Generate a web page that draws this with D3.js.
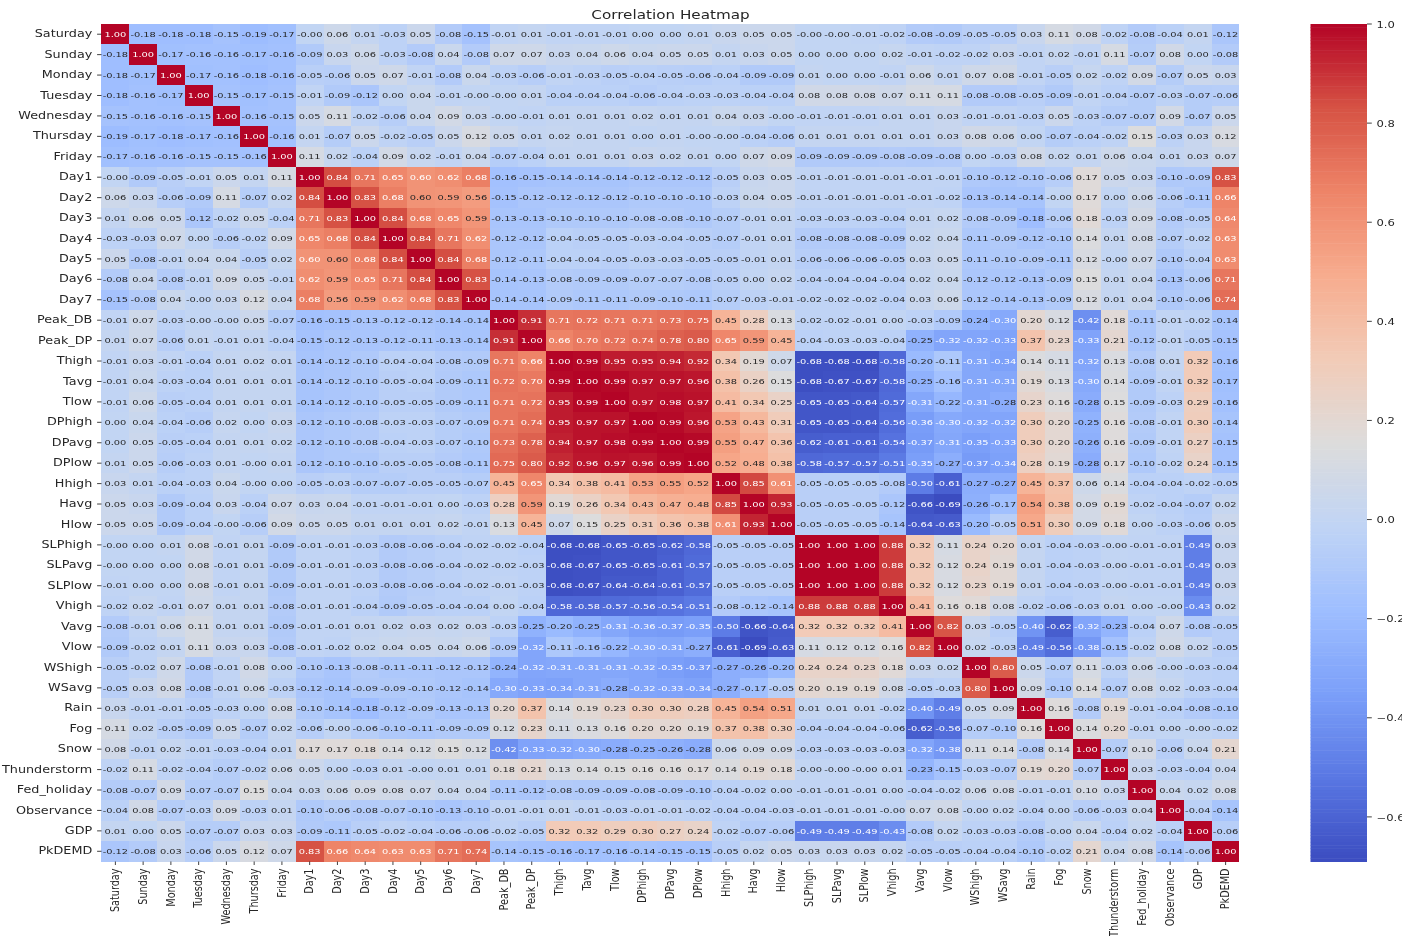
<!DOCTYPE html>
<html>
<head>
<meta charset="utf-8">
<script src="https://cdn.jsdelivr.net/npm/d3@7/dist/d3.min.js"></script>
<style>
html,body{margin:0;padding:0;background:#fff;overflow:hidden;}
svg{display:block;filter:blur(0.55px);}
text{font-family:"DejaVu Sans",sans-serif;}
</style>
</head>
<body>
<svg id="chart" width="1402" height="936"></svg>
<script>
const categories = ["Saturday","Sunday","Monday","Tuesday","Wednesday","Thursday","Friday","Day1","Day2","Day3","Day4","Day5","Day6","Day7","Peak_DB","Peak_DP","Thigh","Tavg","Tlow","DPhigh","DPavg","DPlow","Hhigh","Havg","Hlow","SLPhigh","SLPavg","SLPlow","Vhigh","Vavg","Vlow","WShigh","WSavg","Rain","Fog","Snow","Thunderstorm","Fed_holiday","Observance","GDP","PkDEMD"];

const rowSaturday = [1.00,-0.18,-0.18,-0.18,-0.15,-0.19,-0.17,-0.00,0.06,0.01,-0.03,0.05,-0.08,-0.15,-0.01,0.01,-0.01,-0.01,-0.01,0.00,0.00,0.01,0.03,0.05,0.05,-0.00,-0.00,-0.01,-0.02,-0.08,-0.09,-0.05,-0.05,0.03,0.11,0.08,-0.02,-0.08,-0.04,0.01,-0.12];
const rowSunday = [-0.18,1.00,-0.17,-0.16,-0.16,-0.17,-0.16,-0.09,0.03,0.06,-0.03,-0.08,0.04,-0.08,0.07,0.07,0.03,0.04,0.06,0.04,0.05,0.05,0.01,0.03,0.05,0.00,0.00,0.00,0.02,-0.01,-0.02,-0.02,0.03,-0.01,0.02,-0.01,0.11,-0.07,0.08,0.00,-0.08];
const rowMonday = [-0.18,-0.17,1.00,-0.17,-0.16,-0.18,-0.16,-0.05,-0.06,0.05,0.07,-0.01,-0.08,0.04,-0.03,-0.06,-0.01,-0.03,-0.05,-0.04,-0.05,-0.06,-0.04,-0.09,-0.09,0.01,0.00,0.00,-0.01,0.06,0.01,0.07,0.08,-0.01,-0.05,0.02,-0.02,0.09,-0.07,0.05,0.03];
const rowTuesday = [-0.18,-0.16,-0.17,1.00,-0.15,-0.17,-0.15,-0.01,-0.09,-0.12,0.00,0.04,-0.01,-0.00,-0.00,0.01,-0.04,-0.04,-0.04,-0.06,-0.04,-0.03,-0.03,-0.04,-0.04,0.08,0.08,0.08,0.07,0.11,0.11,-0.08,-0.08,-0.05,-0.09,-0.01,-0.04,-0.07,-0.03,-0.07,-0.06];
const rowWednesday = [-0.15,-0.16,-0.16,-0.15,1.00,-0.16,-0.15,0.05,0.11,-0.02,-0.06,0.04,0.09,0.03,-0.00,-0.01,0.01,0.01,0.01,0.02,0.01,0.01,0.04,0.03,-0.00,-0.01,-0.01,-0.01,0.01,0.01,0.03,-0.01,-0.01,-0.03,0.05,-0.03,-0.07,-0.07,0.09,-0.07,0.05];
const rowThursday = [-0.19,-0.17,-0.18,-0.17,-0.16,1.00,-0.16,0.01,-0.07,0.05,-0.02,-0.05,0.05,0.12,0.05,0.01,0.02,0.01,0.01,0.00,0.01,-0.00,-0.00,-0.04,-0.06,0.01,0.01,0.01,0.01,0.01,0.03,0.08,0.06,0.00,-0.07,-0.04,-0.02,0.15,-0.03,0.03,0.12];
const rowFriday = [-0.17,-0.16,-0.16,-0.15,-0.15,-0.16,1.00,0.11,0.02,-0.04,0.09,0.02,-0.01,0.04,-0.07,-0.04,0.01,0.01,0.01,0.03,0.02,0.01,0.00,0.07,0.09,-0.09,-0.09,-0.09,-0.08,-0.09,-0.08,0.00,-0.03,0.08,0.02,0.01,0.06,0.04,0.01,0.03,0.07];
const rowDay1 = [-0.00,-0.09,-0.05,-0.01,0.05,0.01,0.11,1.00,0.84,0.71,0.65,0.60,0.62,0.68,-0.16,-0.15,-0.14,-0.14,-0.14,-0.12,-0.12,-0.12,-0.05,0.03,0.05,-0.01,-0.01,-0.01,-0.01,-0.01,-0.01,-0.10,-0.12,-0.10,-0.06,0.17,0.05,0.03,-0.10,-0.09,0.83];
const rowDay2 = [0.06,0.03,-0.06,-0.09,0.11,-0.07,0.02,0.84,1.00,0.83,0.68,0.598,0.59,0.56,-0.15,-0.12,-0.12,-0.12,-0.12,-0.10,-0.10,-0.10,-0.03,0.04,0.05,-0.01,-0.01,-0.01,-0.01,-0.01,-0.02,-0.13,-0.14,-0.14,-0.00,0.17,0.00,0.06,-0.06,-0.11,0.66];
const rowDay3 = [0.01,0.06,0.05,-0.12,-0.02,0.05,-0.04,0.71,0.83,1.00,0.84,0.68,0.65,0.59,-0.13,-0.13,-0.10,-0.10,-0.10,-0.08,-0.08,-0.10,-0.07,-0.01,0.01,-0.03,-0.03,-0.03,-0.04,0.01,0.02,-0.08,-0.09,-0.18,-0.06,0.18,-0.03,0.09,-0.08,-0.05,0.64];
const rowDay4 = [-0.03,-0.03,0.07,0.00,-0.06,-0.02,0.09,0.65,0.68,0.84,1.00,0.84,0.71,0.62,-0.12,-0.12,-0.04,-0.05,-0.05,-0.03,-0.04,-0.05,-0.07,-0.01,0.01,-0.08,-0.08,-0.08,-0.09,0.02,0.04,-0.11,-0.09,-0.12,-0.10,0.14,0.01,0.08,-0.07,-0.02,0.63];
const rowDay5 = [0.05,-0.08,-0.01,0.04,0.04,-0.05,0.02,0.60,0.598,0.68,0.84,1.00,0.84,0.68,-0.12,-0.11,-0.04,-0.04,-0.05,-0.03,-0.03,-0.05,-0.05,-0.01,0.01,-0.06,-0.06,-0.06,-0.05,0.03,0.05,-0.11,-0.10,-0.09,-0.11,0.12,-0.00,0.07,-0.10,-0.04,0.63];
const rowDay6 = [-0.08,0.04,-0.08,-0.01,0.09,0.05,-0.01,0.62,0.59,0.65,0.71,0.84,1.00,0.83,-0.14,-0.13,-0.08,-0.09,-0.09,-0.07,-0.07,-0.08,-0.05,0.00,0.02,-0.04,-0.04,-0.04,-0.04,0.02,0.04,-0.12,-0.12,-0.13,-0.09,0.15,0.01,0.04,-0.13,-0.06,0.71];
const rowDay7 = [-0.15,-0.08,0.04,-0.00,0.03,0.12,0.04,0.68,0.56,0.59,0.62,0.68,0.83,1.00,-0.14,-0.14,-0.09,-0.11,-0.11,-0.09,-0.10,-0.11,-0.07,-0.03,-0.01,-0.02,-0.02,-0.02,-0.04,0.03,0.06,-0.12,-0.14,-0.13,-0.09,0.12,0.01,0.04,-0.10,-0.06,0.74];
const rowPeakDB = [-0.01,0.07,-0.03,-0.00,-0.00,0.05,-0.07,-0.16,-0.15,-0.13,-0.12,-0.12,-0.14,-0.14,1.00,0.91,0.71,0.72,0.71,0.71,0.73,0.75,0.45,0.28,0.13,-0.02,-0.02,-0.01,0.00,-0.03,-0.09,-0.24,-0.30,0.20,0.12,-0.42,0.18,-0.11,-0.01,-0.02,-0.14];
const rowPeakDP = [0.01,0.07,-0.06,0.01,-0.01,0.01,-0.04,-0.15,-0.12,-0.13,-0.12,-0.11,-0.13,-0.14,0.91,1.00,0.66,0.70,0.72,0.74,0.78,0.80,0.65,0.59,0.45,-0.04,-0.03,-0.03,-0.04,-0.25,-0.32,-0.32,-0.33,0.37,0.23,-0.33,0.21,-0.12,-0.01,-0.05,-0.15];
const rowThigh = [-0.01,0.03,-0.01,-0.04,0.01,0.02,0.01,-0.14,-0.12,-0.10,-0.04,-0.04,-0.08,-0.09,0.71,0.66,1.00,0.99,0.95,0.95,0.94,0.92,0.34,0.19,0.07,-0.68,-0.68,-0.68,-0.58,-0.20,-0.11,-0.31,-0.34,0.14,0.11,-0.32,0.13,-0.08,0.01,0.32,-0.16];
const rowTavg = [-0.01,0.04,-0.03,-0.04,0.01,0.01,0.01,-0.14,-0.12,-0.10,-0.05,-0.04,-0.09,-0.11,0.72,0.70,0.99,1.00,0.99,0.97,0.97,0.96,0.38,0.26,0.15,-0.68,-0.67,-0.67,-0.58,-0.25,-0.16,-0.31,-0.31,0.19,0.13,-0.30,0.14,-0.09,-0.01,0.32,-0.17];
const rowTlow = [-0.01,0.06,-0.05,-0.04,0.01,0.01,0.01,-0.14,-0.12,-0.10,-0.05,-0.05,-0.09,-0.11,0.71,0.72,0.95,0.99,1.00,0.97,0.98,0.97,0.41,0.34,0.25,-0.65,-0.65,-0.64,-0.57,-0.31,-0.22,-0.31,-0.28,0.23,0.16,-0.28,0.15,-0.09,-0.03,0.29,-0.16];
const rowDPhigh = [0.00,0.04,-0.04,-0.06,0.02,0.00,0.03,-0.12,-0.10,-0.08,-0.03,-0.03,-0.07,-0.09,0.71,0.74,0.95,0.97,0.97,1.00,0.99,0.96,0.53,0.43,0.31,-0.65,-0.65,-0.64,-0.56,-0.36,-0.30,-0.32,-0.32,0.30,0.20,-0.25,0.16,-0.08,-0.01,0.30,-0.14];
const rowDPavg = [0.00,0.05,-0.05,-0.04,0.01,0.01,0.02,-0.12,-0.10,-0.08,-0.04,-0.03,-0.07,-0.10,0.73,0.78,0.94,0.97,0.98,0.99,1.00,0.99,0.55,0.47,0.36,-0.62,-0.61,-0.61,-0.54,-0.37,-0.31,-0.35,-0.33,0.30,0.20,-0.26,0.16,-0.09,-0.01,0.27,-0.15];
const rowDPlow = [0.01,0.05,-0.06,-0.03,0.01,-0.00,0.01,-0.12,-0.10,-0.10,-0.05,-0.05,-0.08,-0.11,0.75,0.80,0.92,0.96,0.97,0.96,0.99,1.00,0.52,0.48,0.38,-0.58,-0.57,-0.57,-0.51,-0.35,-0.27,-0.37,-0.34,0.28,0.19,-0.28,0.17,-0.10,-0.02,0.24,-0.15];
const rowHhigh = [0.03,0.01,-0.04,-0.03,0.04,-0.00,0.00,-0.05,-0.03,-0.07,-0.07,-0.05,-0.05,-0.07,0.45,0.65,0.34,0.38,0.41,0.53,0.55,0.52,1.00,0.85,0.61,-0.05,-0.05,-0.05,-0.08,-0.50,-0.61,-0.27,-0.27,0.45,0.37,0.06,0.14,-0.04,-0.04,-0.02,-0.05];
const rowHavg = [0.05,0.03,-0.09,-0.04,0.03,-0.04,0.07,0.03,0.04,-0.01,-0.01,-0.01,0.00,-0.03,0.28,0.59,0.19,0.26,0.34,0.43,0.47,0.48,0.85,1.00,0.93,-0.05,-0.05,-0.05,-0.12,-0.66,-0.69,-0.26,-0.17,0.54,0.38,0.09,0.19,-0.02,-0.04,-0.07,0.02];
const rowHlow = [0.05,0.05,-0.09,-0.04,-0.00,-0.06,0.09,0.05,0.05,0.01,0.01,0.01,0.02,-0.01,0.13,0.45,0.07,0.15,0.25,0.31,0.36,0.38,0.61,0.93,1.00,-0.05,-0.05,-0.05,-0.14,-0.64,-0.63,-0.20,-0.05,0.51,0.30,0.09,0.18,0.00,-0.03,-0.06,0.05];
const rowSLPhigh = [-0.00,0.00,0.01,0.08,-0.01,0.01,-0.09,-0.01,-0.01,-0.03,-0.08,-0.06,-0.04,-0.02,-0.02,-0.04,-0.68,-0.68,-0.65,-0.65,-0.62,-0.58,-0.05,-0.05,-0.05,1.00,1.00,1.00,0.88,0.32,0.11,0.24,0.20,0.01,-0.04,-0.03,-0.00,-0.01,-0.01,-0.49,0.03];
const rowSLPavg = [-0.00,0.00,0.00,0.08,-0.01,0.01,-0.09,-0.01,-0.01,-0.03,-0.08,-0.06,-0.04,-0.02,-0.02,-0.03,-0.68,-0.67,-0.65,-0.65,-0.61,-0.57,-0.05,-0.05,-0.05,1.00,1.00,1.00,0.88,0.32,0.12,0.24,0.19,0.01,-0.04,-0.03,-0.00,-0.01,-0.01,-0.49,0.03];
const rowSLPlow = [-0.01,0.00,0.00,0.08,-0.01,0.01,-0.09,-0.01,-0.01,-0.03,-0.08,-0.06,-0.04,-0.02,-0.01,-0.03,-0.68,-0.67,-0.64,-0.64,-0.61,-0.57,-0.05,-0.05,-0.05,1.00,1.00,1.00,0.88,0.32,0.12,0.23,0.19,0.01,-0.04,-0.03,-0.00,-0.01,-0.01,-0.49,0.03];
const rowVhigh = [-0.02,0.02,-0.01,0.07,0.01,0.01,-0.08,-0.01,-0.01,-0.04,-0.09,-0.05,-0.04,-0.04,0.00,-0.04,-0.58,-0.58,-0.57,-0.56,-0.54,-0.51,-0.08,-0.12,-0.14,0.88,0.88,0.88,1.00,0.41,0.16,0.18,0.08,-0.02,-0.06,-0.03,0.01,0.00,-0.00,-0.43,0.02];
const rowVavg = [-0.08,-0.01,0.06,0.11,0.01,0.01,-0.09,-0.01,-0.01,0.01,0.02,0.03,0.02,0.03,-0.03,-0.25,-0.20,-0.25,-0.31,-0.36,-0.37,-0.35,-0.50,-0.66,-0.64,0.32,0.32,0.32,0.41,1.00,0.82,0.03,-0.05,-0.40,-0.62,-0.32,-0.23,-0.04,0.07,-0.08,-0.05];
const rowVlow = [-0.09,-0.02,0.01,0.11,0.03,0.03,-0.08,-0.01,-0.02,0.02,0.04,0.05,0.04,0.06,-0.09,-0.32,-0.11,-0.16,-0.22,-0.30,-0.31,-0.27,-0.61,-0.69,-0.63,0.11,0.12,0.12,0.16,0.82,1.00,0.02,-0.03,-0.49,-0.56,-0.38,-0.15,-0.02,0.08,0.02,-0.05];
const rowWShigh = [-0.05,-0.02,0.07,-0.08,-0.01,0.08,0.00,-0.10,-0.13,-0.08,-0.11,-0.11,-0.12,-0.12,-0.24,-0.32,-0.31,-0.31,-0.31,-0.32,-0.35,-0.37,-0.27,-0.26,-0.20,0.24,0.24,0.23,0.18,0.03,0.02,1.00,0.80,0.05,-0.07,0.11,-0.03,0.06,-0.00,-0.03,-0.04];
const rowWSavg = [-0.05,0.03,0.08,-0.08,-0.01,0.06,-0.03,-0.12,-0.14,-0.09,-0.09,-0.10,-0.12,-0.14,-0.30,-0.33,-0.34,-0.31,-0.28,-0.32,-0.33,-0.34,-0.27,-0.17,-0.05,0.20,0.19,0.19,0.08,-0.05,-0.03,0.80,1.00,0.09,-0.10,0.14,-0.07,0.08,0.02,-0.03,-0.04];
const rowRain = [0.03,-0.01,-0.01,-0.05,-0.03,0.00,0.08,-0.10,-0.14,-0.18,-0.12,-0.09,-0.13,-0.13,0.20,0.37,0.14,0.19,0.23,0.30,0.30,0.28,0.45,0.54,0.51,0.01,0.01,0.01,-0.02,-0.40,-0.49,0.05,0.09,1.00,0.16,-0.08,0.19,-0.01,-0.04,-0.08,-0.10];
const rowFog = [0.11,0.02,-0.05,-0.09,0.05,-0.07,0.02,-0.06,-0.00,-0.06,-0.10,-0.11,-0.09,-0.09,0.12,0.23,0.11,0.13,0.16,0.20,0.20,0.19,0.37,0.38,0.30,-0.04,-0.04,-0.04,-0.06,-0.62,-0.56,-0.07,-0.10,0.16,1.00,0.14,0.20,-0.01,0.00,-0.00,-0.02];
const rowSnow = [0.08,-0.01,0.02,-0.01,-0.03,-0.04,0.01,0.17,0.17,0.18,0.14,0.12,0.15,0.12,-0.42,-0.33,-0.32,-0.30,-0.28,-0.25,-0.26,-0.28,0.06,0.09,0.09,-0.03,-0.03,-0.03,-0.03,-0.32,-0.38,0.11,0.14,-0.08,0.14,1.00,-0.07,0.10,-0.06,0.04,0.21];
const rowThunderstorm = [-0.02,0.11,-0.02,-0.04,-0.07,-0.02,0.06,0.05,0.00,-0.03,0.01,-0.00,0.01,0.01,0.18,0.21,0.13,0.14,0.15,0.16,0.16,0.17,0.14,0.19,0.18,-0.00,-0.00,-0.00,0.01,-0.23,-0.15,-0.03,-0.07,0.19,0.20,-0.07,1.00,0.03,-0.03,-0.04,0.04];
const rowFedHoliday = [-0.08,-0.07,0.09,-0.07,-0.07,0.15,0.04,0.03,0.06,0.09,0.08,0.07,0.04,0.04,-0.11,-0.12,-0.08,-0.09,-0.09,-0.08,-0.09,-0.10,-0.04,-0.02,0.00,-0.01,-0.01,-0.01,0.00,-0.04,-0.02,0.06,0.08,-0.01,-0.01,0.10,0.03,1.00,0.04,0.02,0.08];
const rowObservance = [-0.04,0.08,-0.07,-0.03,0.09,-0.03,0.01,-0.10,-0.06,-0.08,-0.07,-0.10,-0.13,-0.10,-0.01,-0.01,0.01,-0.01,-0.03,-0.01,-0.01,-0.02,-0.04,-0.04,-0.03,-0.01,-0.01,-0.01,-0.00,0.07,0.08,-0.00,0.02,-0.04,0.00,-0.06,-0.03,0.04,1.00,-0.04,-0.14];
const rowGDP = [0.01,0.00,0.05,-0.07,-0.07,0.03,0.03,-0.09,-0.11,-0.05,-0.02,-0.04,-0.06,-0.06,-0.02,-0.05,0.32,0.32,0.29,0.30,0.27,0.24,-0.02,-0.07,-0.06,-0.49,-0.49,-0.49,-0.43,-0.08,0.02,-0.03,-0.03,-0.08,-0.00,0.04,-0.04,0.02,-0.04,1.00,-0.06];
const rowPkDEMD = [-0.12,-0.08,0.03,-0.06,0.05,0.12,0.07,0.83,0.66,0.64,0.63,0.63,0.71,0.74,-0.14,-0.15,-0.16,-0.17,-0.16,-0.14,-0.15,-0.15,-0.05,0.02,0.05,0.03,0.03,0.03,0.02,-0.05,-0.05,-0.04,-0.04,-0.10,-0.02,0.21,0.04,0.08,-0.14,-0.06,1.00];

const matrix = [rowSaturday,rowSunday,rowMonday,rowTuesday,rowWednesday,rowThursday,rowFriday,rowDay1,rowDay2,rowDay3,rowDay4,rowDay5,rowDay6,rowDay7,rowPeakDB,rowPeakDP,rowThigh,rowTavg,rowTlow,rowDPhigh,rowDPavg,rowDPlow,rowHhigh,rowHavg,rowHlow,rowSLPhigh,rowSLPavg,rowSLPlow,rowVhigh,rowVavg,rowVlow,rowWShigh,rowWSavg,rowRain,rowFog,rowSnow,rowThunderstorm,rowFedHoliday,rowObservance,rowGDP,rowPkDEMD];

const colorbarTicks = [-0.6,-0.4,-0.2,0,0.2,0.4,0.6,0.8,1.0];
const vMin = -0.69, vMax = 1.0;
const coolwarmStops = ["#3b4cc0","#5977e3","#7b9ff9","#9ebeff","#c0d4f5","#dddcdc","#f2cbb7","#f7ac8e","#ee8468","#d65244","#b40426"];

// The reference picture is stretched horizontally; draw in an unstretched space.
const stretch = 1.333;
const X = px => px / stretch;
const svg = d3.select("#chart");
const root = svg.append("g").attr("transform", `scale(${stretch},1)`);

const x = d3.scaleBand().domain(categories).range([X(101.5), X(1239.5)]);
const y = d3.scaleBand().domain(categories).range([24, 861.5]);

const unit = d3.scaleLinear().domain([vMin, vMax]).range([0, 1]);
const ramp = d3.scaleLinear().domain(d3.range(11).map(i => i / 10)).range(coolwarmStops).interpolate(d3.interpolateRgb);
const color = v => ramp(unit(v));

const fmt = v => (v < 0 || Object.is(v, -0) ? "-" : "") + Math.abs(v).toFixed(2);
const inkFor = v => (v >= 0.6 || v <= -0.29) ? "#ffffff" : "#262626";

const cells = matrix.flatMap((row, r) => row.map((v, c) => ({r, c, v})));

root.append("g").selectAll("rect").data(cells).join("rect")
  .attr("x", d => x(categories[d.c]))
  .attr("y", d => y(categories[d.r]))
  .attr("width", x.bandwidth())
  .attr("height", y.bandwidth())
  .attr("fill", d => color(d.v))
  .attr("shape-rendering", "crispEdges");

root.append("g").selectAll("text").data(cells).join("text")
  .attr("x", d => x(categories[d.c]) + x.bandwidth() / 2)
  .attr("y", d => y(categories[d.r]) + y.bandwidth() / 2)
  .attr("dy", "0.36em")
  .attr("text-anchor", "middle")
  .attr("font-size", 7.4)
  .attr("fill", d => inkFor(d.v))
  .text(d => fmt(d.v));

const styleAxis = (g, size) => {
  g.select(".domain").remove();
  g.selectAll(".tick line").attr("stroke", "#262626").attr("stroke-width", 0.75);
  g.selectAll(".tick text").attr("font-size", size).attr("fill", "#262626").style("font-family", '"DejaVu Sans",sans-serif');
};

const gLeft = root.append("g").attr("transform", `translate(${X(101.5)},0)`)
  .call(d3.axisLeft(y).offset(0).tickSize(3.3).tickPadding(3.6));
styleAxis(gLeft, 9.6);

const gBottom = root.append("g").attr("transform", "translate(0,861.5)")
  .call(d3.axisBottom(x).offset(0).tickSize(3.5).tickPadding(3.5));
styleAxis(gBottom, 9.7);
gBottom.selectAll(".tick text")
  .attr("transform", "rotate(-90)")
  .attr("text-anchor", "end")
  .attr("x", -7)
  .attr("y", -0.75)
  .attr("dy", "0.36em");

// Colour bar
const barX0 = X(1310.5), barW = X(1367) - X(1310.5);
const barY = d3.scaleLinear().domain([vMin, vMax]).range([861.5, 24]);
const strips = d3.range(256).map(i => vMin + (vMax - vMin) * i / 256);
const stripStep = (vMax - vMin) / 256;
root.append("g").selectAll("rect").data(strips).join("rect")
  .attr("x", barX0)
  .attr("width", barW)
  .attr("y", d => barY(d + stripStep))
  .attr("height", d => barY(d) - barY(d + stripStep) + 0.5)
  .attr("fill", d => color(d + stripStep / 2));

const gBar = root.append("g").attr("transform", `translate(${barX0 + barW},0)`)
  .call(d3.axisRight(barY).offset(0).tickValues(colorbarTicks).tickFormat(d3.format(".1f")).tickSize(3.6).tickPadding(3.5));
styleAxis(gBar, 8.7);
gBar.selectAll(".tick text").attr("dy", "0.42em");

root.append("text")
  .attr("x", X(670.5))
  .attr("y", 19)
  .attr("text-anchor", "middle")
  .attr("font-size", 11.4)
  .attr("fill", "#262626")
  .text("Correlation Heatmap");
</script>
</body>
</html>
